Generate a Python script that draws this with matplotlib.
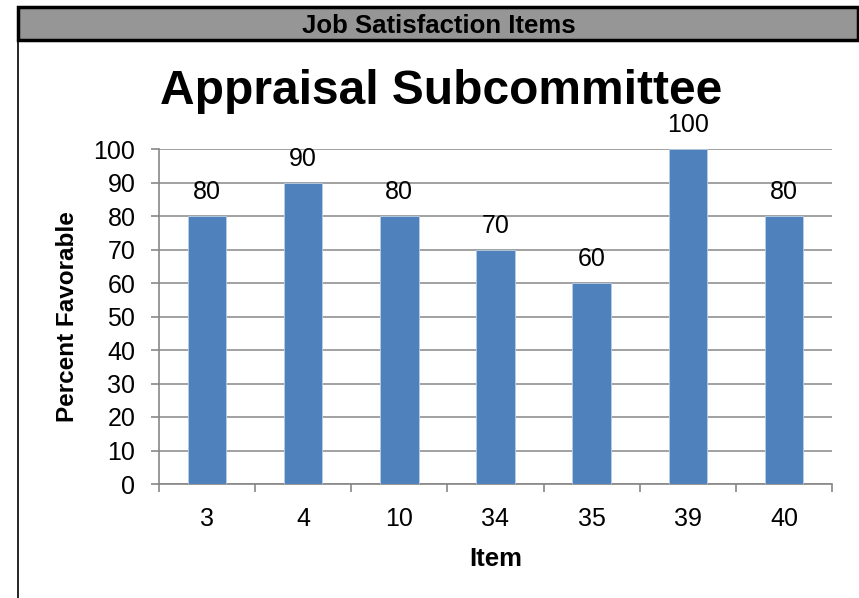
import matplotlib
matplotlib.use("Agg")
import matplotlib.pyplot as plt
from matplotlib.patches import Rectangle
from matplotlib.lines import Line2D

plt.rcParams["font.family"] = ["Liberation Sans", "DejaVu Sans"]

items = ["3", "4", "10", "34", "35", "39", "40"]
percent_favorable = [80, 90, 80, 70, 60, 100, 80]
y_ticks = [0, 10, 20, 30, 40, 50, 60, 70, 80, 90, 100]

W, H = 859, 598
fig = plt.figure(figsize=(W / 100, H / 100), dpi=100)

# header band and frame
fig.add_artist(Rectangle((18 / W, 1 - 40 / H), 840 / W, 33 / H, transform=fig.transFigure,
                         facecolor="#969696", edgecolor="black", linewidth=2.5))
fig.add_artist(Line2D([18 / W, 18 / W], [0, 1 - 40 / H], transform=fig.transFigure,
                      color="black", linewidth=1.2))
fig.text(439 / W, 1 - 26 / H, "Job Satisfaction Items", ha="center", va="center",
         fontsize=18.5, fontweight="bold")

ax = fig.add_axes([159 / W, 1 - 484 / H, (832 - 159) / W, (484 - 149) / H])
x = range(len(items))
bars = ax.bar(x, percent_favorable, width=0.4, color="#4F81BD",
              edgecolor="#B9CDE5", linewidth=0.6, zorder=3)
for xi, v in zip(x, percent_favorable):
    ax.annotate(str(v), (xi, v), xytext=(0, 12), textcoords="offset points",
                ha="center", va="baseline", fontsize=18, clip_on=False)

ax.set_xlim(-0.5, len(items) - 0.5)
ax.set_ylim(0, 100)
ax.set_yticks(y_ticks)
ax.set_xticks(list(x))
ax.set_xticklabels(items)
ax.set_xticks([i - 0.5 for i in range(len(items) + 1)], minor=True)
ax.tick_params(axis="x", which="major", length=0, pad=16.5, labelsize=18)
ax.tick_params(axis="x", which="minor", length=6, color="#878787", width=1.2)
ax.tick_params(axis="y", length=6, color="#878787", width=1.2, labelsize=18, pad=11)
ax.grid(axis="y", color="#878787", linewidth=1.1, zorder=0)
ax.set_axisbelow(True)
for s in ("top", "right"):
    ax.spines[s].set_visible(False)
for s in ("left", "bottom"):
    ax.spines[s].set_color("#878787")
    ax.spines[s].set_linewidth(1.2)

ax.set_ylabel("Percent Favorable", fontsize=17.5, fontweight="bold")
ax.yaxis.set_label_coords((67 - 159) / (832 - 159), 0.5)
ax.yaxis.label.set_va("center")
ax.set_xlabel("Item", fontsize=18.5, fontweight="bold")
ax.xaxis.set_label_coords(0.5, -(559 - 484) / (484 - 149))
ax.xaxis.label.set_va("center")

fig.text(441 / W, 1 - 91 / H, "Appraisal Subcommittee", ha="center", va="center",
         fontsize=34.5, fontweight="bold")

fig.savefig("out.png", dpi=100)
